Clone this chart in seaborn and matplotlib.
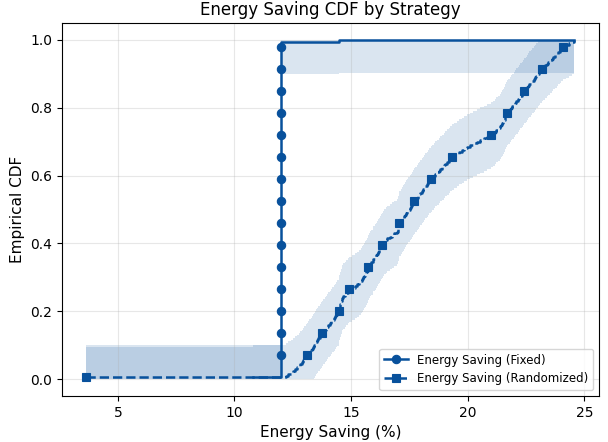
import matplotlib
matplotlib.use("Agg")
import matplotlib.pyplot as plt
import numpy as np
import pandas as pd
import seaborn as sns

# Fixed strategy: almost every run lands on the same saving
fixed_levels = [10.79, 12.0, 14.48]
fixed_counts = [1, 198, 1]

# Randomized strategy: sorted per-run savings (%)
randomized_saving = [
    3.65,
    12.20, 12.30, 12.42, 12.52, 12.60, 12.68, 12.75, 12.82, 12.88, 12.94, 13.00, 13.05,
    13.11, 13.16, 13.21, 13.26, 13.31, 13.36, 13.41, 13.46, 13.51, 13.55, 13.60, 13.65, 13.70,
    13.74, 13.80, 13.86, 13.91, 13.97, 14.03, 14.08, 14.14, 14.19, 14.25, 14.30, 14.36, 14.41,
    14.47, 14.48, 14.50, 14.51, 14.53, 14.55, 14.57, 14.59, 14.62, 14.66, 14.72, 14.79, 14.86,
    14.93, 15.04, 15.15, 15.26, 15.36, 15.43, 15.48, 15.53, 15.57, 15.61, 15.65, 15.68, 15.71,
    15.74, 15.78, 15.83, 15.87, 15.92, 15.96, 16.01, 16.05, 16.10, 16.14, 16.19, 16.23, 16.28,
    16.32, 16.37, 16.42, 16.48, 16.55, 16.65, 16.75, 16.85, 16.95, 17.01, 17.03, 17.04, 17.06,
    17.07, 17.12, 17.17, 17.22, 17.27, 17.32, 17.36, 17.41, 17.46, 17.51, 17.55, 17.60, 17.65,
    17.70, 17.75, 17.81, 17.86, 17.92, 17.97, 18.03, 18.08, 18.14, 18.19, 18.25, 18.30, 18.36,
    18.41, 18.48, 18.55, 18.62, 18.69, 18.76, 18.83, 18.90, 18.97, 19.04, 19.11, 19.18, 19.25,
    19.32, 19.42, 19.53, 19.64, 19.75, 19.86, 19.97, 20.10, 20.24, 20.38, 20.54, 20.70, 20.85,
    21.00, 21.08, 21.16, 21.23, 21.31, 21.37, 21.42, 21.47, 21.51, 21.55, 21.59, 21.62, 21.65,
    21.68, 21.74, 21.80, 21.85, 21.91, 21.97, 22.02, 22.08, 22.14, 22.19, 22.25, 22.31, 22.36,
    22.42, 22.48, 22.54, 22.60, 22.65, 22.71, 22.77, 22.83, 22.89, 22.95, 23.01, 23.07, 23.12,
    23.18, 23.25, 23.32, 23.39, 23.46, 23.53, 23.60, 23.67, 23.74, 23.81, 23.88, 23.95, 24.02,
    24.10, 24.22, 24.34, 24.46, 24.58,
]

COLOR = "#08519c"
ALPHA = 0.05  # DKW band confidence


def ecdf(values):
    x = np.sort(np.asarray(values, dtype=float))
    y = np.arange(1, len(x) + 1) / len(x)
    return x, y


fixed_saving = np.repeat(fixed_levels, fixed_counts)
series = [
    ("Energy Saving (Fixed)", fixed_saving, "-", "o", slice(13, None, 13)),
    ("Energy Saving (Randomized)", np.asarray(randomized_saving), "--", "s", slice(0, None, 13)),
]

grid = np.unique(np.concatenate([s[1] for s in series]))
x_max = grid[-1]

fig, ax = plt.subplots(figsize=(6.08, 4.42), dpi=100)
fig.subplots_adjust(left=0.102, right=0.985, bottom=0.104, top=0.948)

for label, vals, ls, mk, every in series:
    xs, ys = ecdf(vals)
    n = len(xs)
    eps = np.sqrt(np.log(2 / ALPHA) / (2 * n))
    f_grid = np.searchsorted(xs, grid, side="right") / n
    ax.fill_between(grid, np.clip(f_grid - eps, 0, 1), np.clip(f_grid + eps, 0, 1),
                    step="post", color=COLOR, alpha=0.15, linewidth=0)

    # carry the last step on to the right end of the shared range
    if xs[-1] < x_max:
        xs, ys = np.append(xs, x_max), np.append(ys, ys[-1])

    df = pd.DataFrame({"x": xs, "y": ys})
    sns.lineplot(data=df, x="x", y="y", ax=ax, estimator=None, sort=False,
                 drawstyle="steps-post", color=COLOR, linewidth=1.8, linestyle=ls,
                 marker=mk, markersize=6, markevery=every,
                 markeredgecolor=COLOR, markeredgewidth=0.8, label=label)

ax.set_yticks([0.0, 0.2, 0.4, 0.6, 0.8, 1.0])
ax.set_xticks([5, 10, 15, 20, 25])
ax.grid(True, alpha=0.3)
ax.set_xlabel("Energy Saving (%)", fontsize=11)
ax.set_ylabel("Empirical CDF", fontsize=11)
ax.set_title("Energy Saving CDF by Strategy", fontsize=12)
ax.legend(loc="lower right", fontsize=8.5)

fig.savefig("out.png", dpi=100)
